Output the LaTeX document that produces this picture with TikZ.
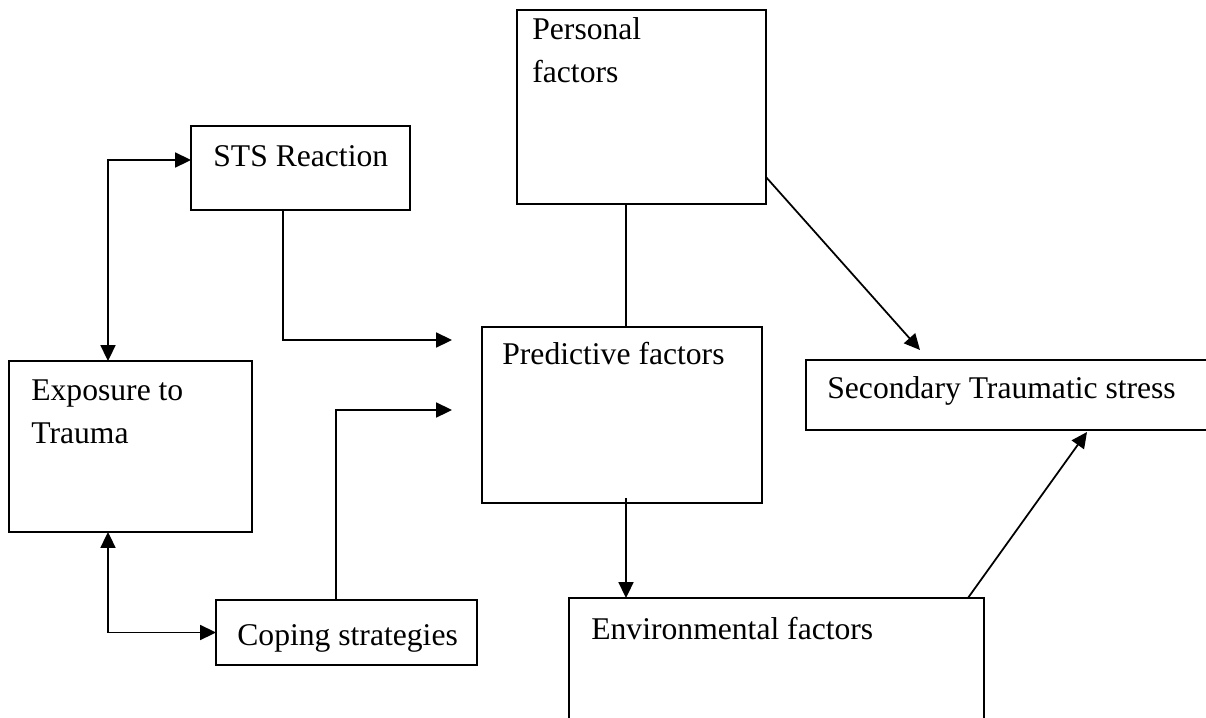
\documentclass[tikz,border=0pt]{standalone}
\usepackage{fontspec}
\setmainfont{Liberation Serif}
\usetikzlibrary{arrows.meta}
\begin{document}
\begin{tikzpicture}[x=0.02cm, y=-0.02cm,
    font=\fontsize{18}{24}\selectfont,
    box/.style={draw, line width=1pt, inner sep=0pt, outer sep=0pt,
                anchor=north west},
    lbl/.style={anchor=base west, inner sep=0pt, align=left},
    arr/.style={line width=1pt, -{Triangle[length=9pt,width=8.5pt]}},
    dbl/.style={line width=1pt,
                {Triangle[length=9pt,width=8.5pt]}-{Triangle[length=9pt,width=8.5pt]}},
    conn/.style={line width=1pt}]
  \useasboundingbox (0,0) rectangle (1206,717);
  \node[box, minimum width=4.98cm, minimum height=3.88cm] (pers) at (517,10) {};
  \node[box, minimum width=4.38cm, minimum height=1.68cm] (sts) at (191,126) {};
  \node[box, minimum width=4.86cm, minimum height=3.42cm] (expo) at (9,361) {};
  \node[box, minimum width=5.60cm, minimum height=3.52cm] (pred) at (482,327) {};
  \node[box, minimum width=8.40cm, minimum height=1.40cm] (sec) at (806,360) {};
  \node[box, minimum width=8.30cm, minimum height=2.60cm] (env) at (569,598) {};
  \node[box, minimum width=5.22cm, minimum height=1.30cm] (cope) at (216,600) {};

  \node[lbl] (persT) at ([shift={(15,72)}]pers.north west) {Personal\\factors};
  \node[lbl] (stsT) at ([shift={(22,40)}]sts.north west) {STS Reaction};
  \node[lbl] (expoT) at ([shift={(22,82)}]expo.north west) {Exposure to\\Trauma};
  \node[lbl] (predT) at ([shift={(20,37)}]pred.north west) {Predictive factors};
  \node[lbl] (secT) at ([shift={(21,38)}]sec.north west) {Secondary Traumatic stress};
  \node[lbl] (envT) at ([shift={(22,41)}]env.north west) {Environmental factors};
  \node[lbl] (copeT) at ([shift={(21,45)}]cope.north west) {Coping strategies};

  \draw[dbl] ([shift={(0,34)}]sts.north west) -| ([shift={(99,0)}]expo.north west);
  \draw[dbl] ([shift={(99,0)}]expo.south west) |- (cope.west);
  \draw[arr] ([shift={(92,0)}]sts.south west) |- ([shift={(-30,13)}]pred.north west);
  \draw[arr] ([shift={(120,0)}]cope.north west) |- ([shift={(-30,83)}]pred.north west);
  \draw[conn] ([shift={(109,0)}]pers.south west) -- ([shift={(144,0)}]pred.north west);
  \draw[arr] ([shift={(0,167)}]pers.north east) -- ([shift={(114,-10)}]sec.north west);
  \draw[arr] ([shift={(144,-5)}]pred.south west) -- ([shift={(57,0)}]env.north west);
  \draw[arr] ([shift={(-16,0)}]env.north east) -- ([shift={(281,2)}]sec.south west);
\end{tikzpicture}
\end{document}
